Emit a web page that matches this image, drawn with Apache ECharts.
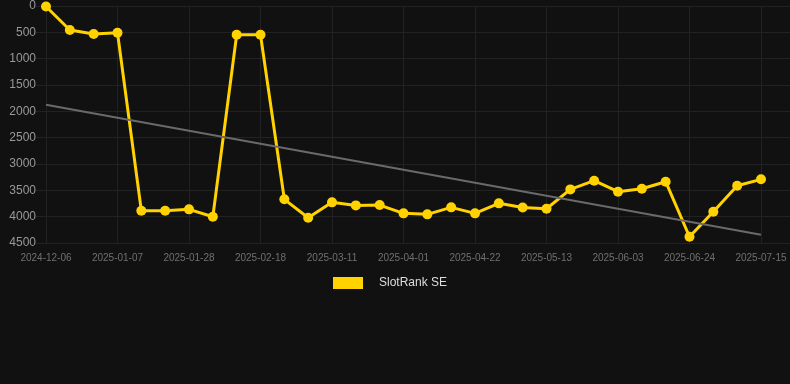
<!DOCTYPE html>
<html>
<head>
<meta charset="utf-8">
<script src="https://cdn.jsdelivr.net/npm/echarts@6/dist/echarts.min.js"></script>
<style>
  html, body { margin: 0; padding: 0; background: #111111; }
  #main { width: 790px; height: 384px; }
</style>
</head>
<body>
<div id="main"></div>
<script>
const dates = [
  '2024-12-06', '2024-12-24', '2024-12-31', '2025-01-07', '2025-01-14', '2025-01-21',
  '2025-01-28', '2025-02-04', '2025-02-11', '2025-02-18', '2025-02-25', '2025-03-04',
  '2025-03-11', '2025-03-18', '2025-03-25', '2025-04-01', '2025-04-08', '2025-04-15',
  '2025-04-22', '2025-04-29', '2025-05-06', '2025-05-13', '2025-05-20', '2025-05-27',
  '2025-06-03', '2025-06-10', '2025-06-17', '2025-06-24', '2025-07-01', '2025-07-08',
  '2025-07-15'
];
const ranks = [
  10, 456, 532, 507, 3887, 3887, 3861, 4001, 545, 545, 3671, 4020,
  3728, 3786, 3780, 3937, 3956, 3823, 3937, 3747, 3827, 3849, 3482, 3317,
  3526, 3469, 3336, 4381, 3906, 3412, 3291
];
// trend line ends (first and last date)
const trend = [1875, 4345];

const dom = document.getElementById('main');
const myChart = echarts.init(dom);

const option = {
  backgroundColor: '#111111',
  animation: false,
  textStyle: { fontFamily: 'Arial, Liberation Sans, sans-serif' },
  legend: {
    data: ['SlotRank SE'],
    left: 328,
    top: 272,
    icon: 'rect',
    itemWidth: 30,
    itemHeight: 12,
    textStyle: { color: '#dddddd', fontSize: 12, padding: [0, 0, 0, 11] }
  },
  grid: [
    { left: 46, right: 29, top: 6, bottom: 141 },
    { left: 36, right: 0, top: 6, bottom: 141 }
  ],
  xAxis: [
    {
      type: 'category',
      gridIndex: 0,
      data: dates,
      boundaryGap: false,
      axisLine: { show: false },
      axisTick: { show: true, interval: 2, length: 6, lineStyle: { color: '#222222' } },
      axisLabel: { interval: 2, color: '#707070', fontSize: 10, margin: 10 },
      splitLine: { show: true, interval: 2, lineStyle: { color: '#222222' } }
    },
    {
      type: 'value',
      gridIndex: 1,
      min: 0,
      max: 1,
      show: false
    }
  ],
  yAxis: [
    {
      type: 'value',
      gridIndex: 0,
      inverse: true,
      min: 0,
      max: 4500,
      interval: 500,
      axisLine: { show: false },
      axisTick: { show: false },
      axisLabel: { color: '#999999', fontSize: 12, margin: 10, formatter: v => String(v) },
      splitLine: { show: false }
    },
    {
      type: 'value',
      gridIndex: 1,
      inverse: true,
      min: 0,
      max: 4500,
      interval: 500,
      axisLine: { show: false },
      axisTick: { show: false },
      axisLabel: { show: false },
      splitLine: { show: true, lineStyle: { color: '#222222' } }
    }
  ],
  series: [
    {
      name: 'SlotRank SE',
      type: 'line',
      xAxisIndex: 0,
      yAxisIndex: 0,
      data: ranks,
      color: '#ffd200',
      lineStyle: { width: 3, color: '#ffd200' },
      symbol: 'circle',
      symbolSize: 10,
      itemStyle: { color: '#ffd200' },
      z: 3,
      markLine: {
        silent: true,
        symbol: 'none',
        label: { show: false },
        lineStyle: { color: '#6a6a6a', width: 2, type: 'solid' },
        data: [
          [
            { coord: [dates[0], trend[0]] },
            { coord: [dates[dates.length - 1], trend[1]] }
          ]
        ]
      }
    }
  ]
};

myChart.setOption(option, true);
</script>
</body>
</html>
